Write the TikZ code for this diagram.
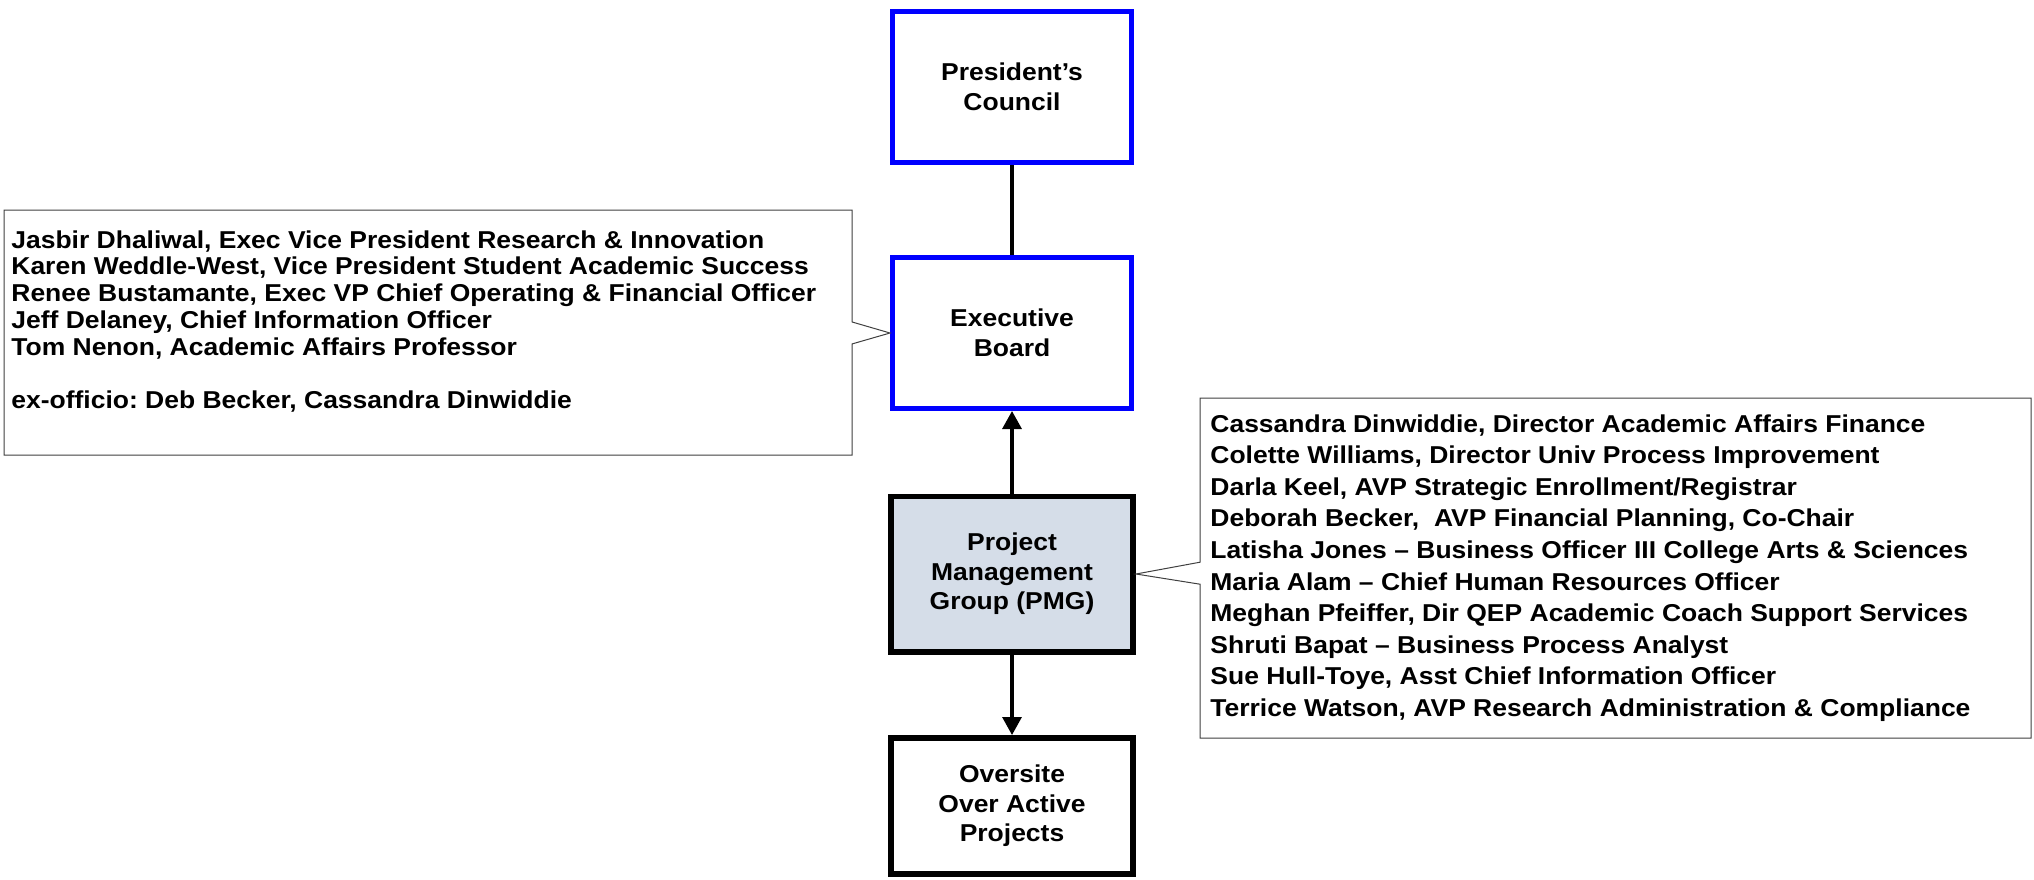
\documentclass[tikz,border=0pt]{standalone}
\usepackage{fontspec}
\setmainfont{Liberation Sans}[FakeStretch=1.085]
\usetikzlibrary{arrows.meta,shapes.callouts}
\definecolor{ink}{HTML}{000000}
\definecolor{boardblue}{HTML}{0000FF}
\definecolor{pmgfill}{HTML}{D5DDE8}
\definecolor{noteline}{HTML}{404040}
\tikzset{
  font=\bfseries\fontsize{12.2}{14.8}\selectfont,
  >={Triangle[length=9pt,width=9.5pt]},
  link/.style={draw=ink, line width=1.6pt},
  flow/.style={link, ->},
  board/.style={draw=boardblue, fill=white, line width=2.5pt,
    align=center, minimum width=119.5pt, minimum height=75.5pt,
    inner sep=0pt},
  group/.style={draw=ink, fill=white, line width=2.8pt,
    align=center, minimum width=121.2pt, inner sep=0pt},
  note/.style={rectangle callout, draw=noteline, fill=white,
    line width=.5pt, callout pointer width=11pt, inner sep=0pt},
  members/.style={align=left, anchor=north west, inner sep=0pt,
    font=\bfseries\fontsize{12.2}{13.4}\selectfont}
}

\begin{document}
\frenchspacing
\begin{tikzpicture}[x=0.5pt,y=-0.5pt]
  \useasboundingbox (0,0) rectangle (2034,879);

  % ------------------------------------------------------------------
  % reporting chain
  \node[board] (pres) at (1012,87) {President’s\\Council};
  \node[board] (exec) at (1012,333) {Executive\\Board};
  \node[group, fill=pmgfill, minimum height=77.7pt] (pmg) at (1012,574)
    {Project\\Management\\Group (PMG)};
  \node[group, minimum height=68.2pt] (over) at (1012,806)
    {Oversite\\Over Active\\Projects};

  \draw[link] (pres) -- (exec);
  \draw[flow] (pmg) -- (exec);
  \draw[flow] (pmg) -- (over);

  % ------------------------------------------------------------------
  % member lists
  \node[note, minimum width=424pt, minimum height=122.5pt,
    callout absolute pointer={(exec.west)}] (execnote) at (428,332.5) {};
  \node[members] (execlist) at (11,230)
    {Jasbir Dhaliwal, Exec Vice President Research \& Innovation\\
     Karen Weddle-West, Vice President Student Academic Success\\
     Renee Bustamante, Exec VP Chief Operating \& Financial Officer\\
     Jeff Delaney, Chief Information Officer\\
     Tom Nenon, Academic Affairs Professor\\[13.4pt]
     ex-officio: Deb Becker, Cassandra Dinwiddie};

  \node[note, minimum width=415.5pt, minimum height=170pt,
    callout absolute pointer={(pmg.east)}] (pmgnote) at (1615.5,568) {};
  \node[members, font=\bfseries\fontsize{12.2}{15.8}\selectfont]
    (pmglist) at (1210,414)
    {Cassandra Dinwiddie, Director Academic Affairs Finance\\
     Colette Williams, Director Univ Process Improvement\\
     Darla Keel, AVP Strategic Enrollment/Registrar\\
     Deborah Becker, \ AVP Financial Planning, Co-Chair\\
     Latisha Jones – Business Officer III College Arts \& Sciences\\
     Maria Alam – Chief Human Resources Officer\\
     Meghan Pfeiffer, Dir QEP Academic Coach Support Services\\
     Shruti Bapat – Business Process Analyst\\
     Sue Hull-Toye, Asst Chief Information Officer\\
     Terrice Watson, AVP Research Administration \& Compliance};
\end{tikzpicture}
\end{document}
